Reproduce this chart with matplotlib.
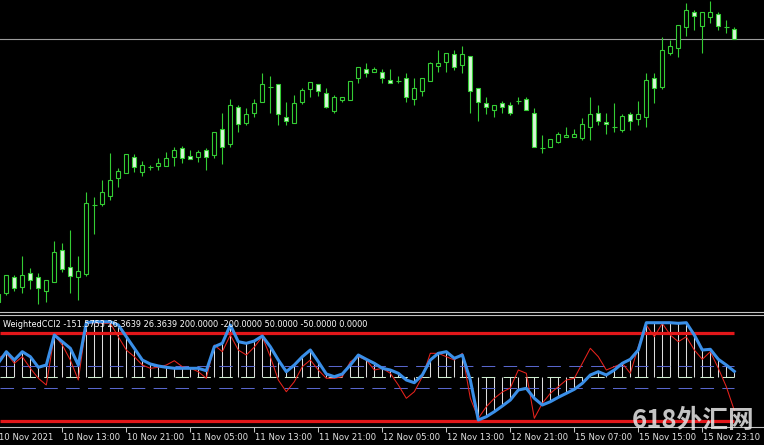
import matplotlib
matplotlib.use("Agg")
import matplotlib.pyplot as plt

# hourly bars, index -1 .. 91 (prices in chart units)
bar_idx = list(range(-1, 92))

opens = [16, 17, 33.3, 23.3, 36.7, 32.7, 19.3, 27.7, 60, 42.7, 32.7,
         36, 105, 106, 114.3, 131.7, 136.7, 153.3, 138.3, 142.7, 144,
         144, 153.3, 161.7, 154, 153.3, 160, 155, 180.7, 166, 202.7,
         186.7, 196.7, 208.3, 223.3, 225.7, 193.3, 187.3, 208.3, 221, 225.7,
         216.7, 199.3, 210, 210, 231.7, 240.7, 238.3, 238.3, 230, 229.3,
         231.7, 210.7, 219.3, 229.3, 244.3, 248.3, 256, 245, 254, 221.7,
         206.7, 200, 207.3, 205, 209, 210.7, 197.3, 161.7, 163.3, 168.3,
         172.7, 172.7, 171.7, 182.7, 197.3, 188.3, 182.7, 180, 195.7, 191,
         193.3, 231.7, 223.3, 257.3, 261.7, 282.7, 297.7, 284.3, 293.3, 296,
         282.7, 280.7]
highs = [18, 35, 35, 54, 41.7, 36.7, 30, 69.3, 67.3, 80, 54,
         118.3, 112.7, 130, 156.7, 141.7, 156, 156, 149.3, 145, 151.7,
         158.3, 163.3, 164, 160, 160, 161.7, 178.3, 196.7, 210.7, 205,
         201.7, 210.7, 236.7, 234, 225.7, 208.3, 215, 221.7, 227.7, 225.7,
         221.7, 215, 212.7, 229.3, 242.7, 247.3, 242.7, 240.7, 240.7, 234,
         236.7, 231.7, 231.7, 248.3, 260, 257.3, 260, 264, 254, 221.7,
         212.7, 205, 209.3, 208.3, 212.7, 212.7, 201.7, 175, 170.7, 178.3,
         182.7, 180.7, 191.7, 213.3, 205, 197.3, 207.3, 196, 198.3, 209.3,
         237.3, 237.3, 273.3, 270, 285, 307.3, 300, 297.7, 309, 297.7,
         290, 282.7]
lows = [5, 15, 19.3, 17.3, 20.7, 6, 8, 27.7, 38.3, 16.7, 10,
        34, 76, 104.3, 110, 123.3, 136.7, 138.3, 134, 140, 140,
        144, 144, 146.7, 151.3, 148.3, 140, 151.7, 146, 163.3, 178.3,
        185, 193.3, 208.3, 196.7, 185, 185, 187.3, 206, 212.7, 214,
        201.7, 197.3, 208.3, 210, 226.7, 233.3, 238.3, 227.3, 227.3, 226.7,
        208.3, 205, 214, 229.3, 238.3, 238.3, 240, 236.7, 196.7, 189.3,
        196, 192.7, 196.7, 195, 206, 200, 163.3, 156.7, 163.3, 167.3,
        172.7, 172.7, 170, 170, 185, 176, 178.3, 178.3, 180, 185,
        182.7, 206.7, 220.7, 255, 252.7, 274, 280, 256.7, 286.7, 280,
        276.7, 270.7]
closes = [8, 35, 21.7, 35, 30, 21.7, 30, 57.7, 40.7, 34.3, 39,
          106.7, 105, 117.7, 130, 139, 156, 142.7, 145, 142.7, 147.3,
          151.7, 160, 151.7, 151.3, 158.3, 153.3, 178.3, 163.3, 205, 186,
          196, 206.7, 225.7, 223.3, 195.7, 189, 206.7, 220, 227.7, 219.3,
          202.7, 212.7, 212.7, 229.3, 242.7, 236.7, 240.7, 231.7, 227.3, 229.3,
          212.7, 221.7, 231.7, 247.3, 246.7, 257.3, 242.7, 256, 219.3, 208.3,
          202.7, 205, 202.7, 197.3, 209, 200, 163.3, 161.7, 170.7, 176,
          175, 176, 186, 196, 189.3, 186, 182.7, 194, 189.3, 196,
          230, 221.7, 260, 264, 285, 300, 294, 297.7, 297.7, 284.3,
          282.7, 270.7]

# WeightedCCI2 buffers
wcci = [64.5, 116.1, 78.2, 116.1, 93.3, 44.9, 55.4, 192.2, 161.7, 131.6, 55.4,
        248.3, 252.9, 252.9, 252.9, 237.9, 184.5, 131.6, 78.2, 60.0, 50.9,
        44.9, 40.4, 40.4, 40.4, 40.4, 29.4, 138.9, 154.4, 237.9, 161.7,
        154.4, 164.9, 187.7, 138.9, 78.2, 24.9, 55.4, 93.3, 123.8, 70.5,
        14.4, 2.1, 14.4, 55.4, 101.0, 81.4, 63.2, 40.4, 32.6, 17.6,
        -13.0, -25.3, 9.8, 78.2, 108.8, 116.1, 86.0, 101.0, -13.0, -195.4,
        -180.4, -157.6, -131.6, -104.2, -58.6, -50.9, -96.5, -127.0, -112.0, -91.9,
        -73.7, -55.4, -28.1, 9.8, 24.9, 9.8, 32.6, 63.2, 81.4, 123.8,
        248.3, 248.3, 248.3, 248.3, 245.6, 248.3, 192.2, 123.8, 127.0, 81.4,
        55.4, 26.4]
cci = [86.0, 108.8, 63.2, 93.3, 40.4, -5.2, -35.8, 192.2, 146.6, 78.2, -13.0,
       245.6, 248.3, 245.6, 245.6, 184.5, 123.8, 93.3, 55.4, 40.4, 44.9,
       55.4, 75.0, 47.7, 40.4, 24.9, -5.2, 146.6, 116.1, 192.2, 123.8,
       101.0, 137.5, 184.5, 93.3, -13.0, -66.4, -20.8, 47.7, 78.2, 32.6,
       -5.2, -5.2, 2.1, 70.5, 93.3, 78.2, 32.6, 40.4, 17.6, -35.8,
       -96.5, -66.4, 2.1, 108.8, 108.8, 93.3, 78.2, 108.8, -96.5, -187.7,
       -134.8, -96.5, -67.7, -49.5, 32.6, 17.6, -187.7, -119.3, -73.7, -43.6,
       -13.0, -5.2, 63.2, 131.6, 93.3, 32.6, 47.7, 63.2, 17.6, 138.9,
       237.9, 184.5, 245.6, 192.2, 161.7, 184.5, 123.8, 81.4, 116.1, 40.4,
       -43.6, -151.6]

levels = [200, -200, 50, -50, 0]
ind_label = "WeightedCCI2 -151.5753 26.3639 26.3639 200.0000 -200.0000 50.0000 -50.0000 0.0000"

tick_idx = [-1, 7, 15, 23, 31, 39, 47, 55, 63, 71, 79, 87]
tick_text = ["10 Nov 2021", "10 Nov 13:00", "10 Nov 21:00", "11 Nov 05:00",
             "11 Nov 13:00", "11 Nov 21:00", "12 Nov 05:00", "12 Nov 13:00",
             "12 Nov 21:00", "15 Nov 07:00", "15 Nov 15:00", "15 Nov 23:10"]

green = '#34cc34'
bear_fill = '#d8f6d8'
grey = '#c4c4c4'

fig = plt.figure(figsize=(7.64, 4.45), dpi=100, facecolor='black')
ax1 = fig.add_axes([0, 0.29955, 1, 0.70045], facecolor='black')
ax2 = fig.add_axes([0, 0.04112, 1, 0.25101], facecolor='black')

for ax in (ax1, ax2):
    ax.set_xlim(-0.79, 94.71)
    for s in ax.spines.values():
        s.set_visible(False)
    ax.set_yticks([])

# ---- price window
ax1.set_ylim(-1.7, 310)
ax1.set_xticks([])
ax1.spines['bottom'].set_visible(True)
ax1.spines['bottom'].set_color(grey)
ax1.spines['bottom'].set_linewidth(0.8)

ax1.axhline(closes[-1], color='#9c9c9c', lw=0.8, zorder=0.5)
ax1.vlines(bar_idx, lows, highs, color=green, lw=0.8, zorder=1)
for x, o, c in zip(bar_idx, opens, closes):
    if o == c:
        ax1.hlines(o, x - 0.3, x + 0.3, color=green, lw=0.8, zorder=2)
        continue
    fill = 'black' if c > o else bear_fill
    ax1.bar(x, abs(c - o), bottom=min(o, c), width=0.5, color=fill,
            edgecolor=green, linewidth=0.8, zorder=2)

# ---- indicator window
ax2.set_ylim(-226.0, 283.5)
ax2.spines['top'].set_visible(True)
ax2.spines['bottom'].set_visible(True)
for side in ('top', 'bottom'):
    ax2.spines[side].set_color(grey)
    ax2.spines[side].set_linewidth(0.8)

ax2.vlines(bar_idx, 0, wcci, color='#dedede', lw=0.75, zorder=1)
for lv in levels:
    if abs(lv) == 200:
        ax2.hlines(lv, -0.79, bar_idx[-1], color='#e3171a', lw=2.3, zorder=3)
    elif lv == 0:
        ax2.hlines(lv, -0.79, bar_idx[-1], color='#cfeecf', lw=0.75,
                   linestyles=(0, (13, 8)), zorder=1.5)
    else:
        ax2.hlines(lv, -0.79, bar_idx[-1], color='#5866cc', lw=0.75,
                   linestyles=(0, (13, 8)), zorder=1.5)
ax2.plot(bar_idx, cci, color='#e8231d', lw=0.75, zorder=4)
ax2.plot(bar_idx, wcci, color='#3a8fe8', lw=2.2, zorder=5,
         solid_joinstyle='round')

ax2.text(0.004, 0.915, ind_label, transform=ax2.transAxes, color='white',
         fontsize=5.9, va='center', ha='left', zorder=6)

ax2.set_xticks([t for t in tick_idx if t >= 0])
ax2.tick_params(axis='x', direction='out', length=3.6, width=0.75,
                color=grey, labelbottom=False)
tr = ax2.get_xaxis_transform()
for t, s in zip(tick_idx, tick_text):
    ax2.text(t + 0.14, -0.055, s, transform=tr, color='#e4e4e4',
             fontsize=6.1, va='top', ha='left')

# watermark
fig.text(632 / 764, 1 - 421 / 445, "618外汇网", fontsize=18.5, fontweight='bold',
         family=['Noto Sans CJK SC', 'DejaVu Sans'], color='#e6e6e6',
         alpha=0.85, va='center', ha='left')

fig.savefig("out.png", dpi=100, facecolor='black')
